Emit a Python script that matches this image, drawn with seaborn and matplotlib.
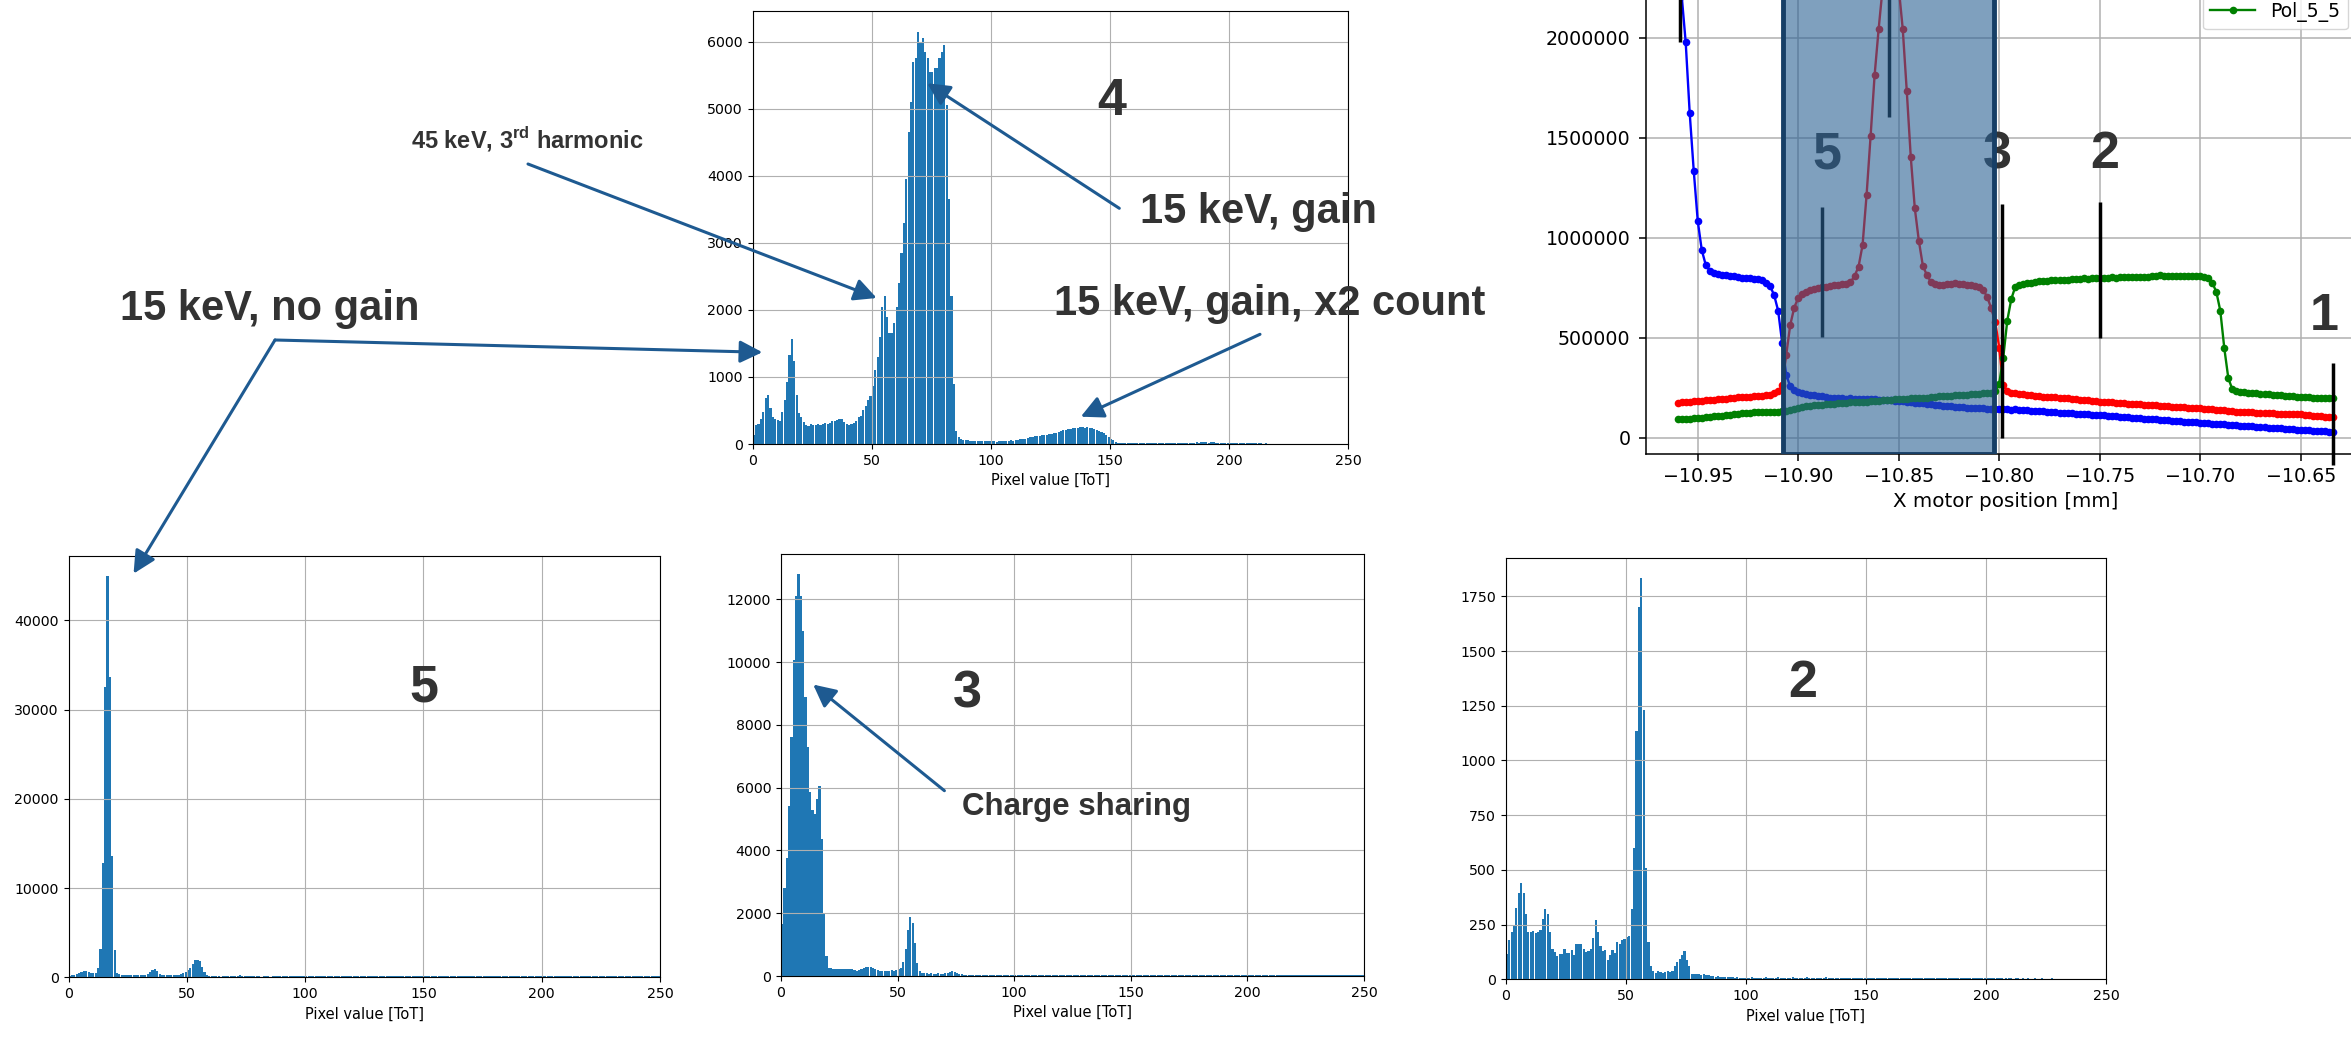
import matplotlib
matplotlib.use("Agg")
import matplotlib.pyplot as plt
import seaborn as sns
import numpy as np
import pandas as pd

W, H = 2351, 1037

# ---- ToT histograms, counts per 1-ToT bin starting at 0 ----
tot_counts_4 = [
    140, 280, 300, 380, 480, 690, 726, 530, 400, 380,
    360, 340, 480, 650, 930, 1330, 1570, 1240, 730, 460,
    400, 330, 290, 270, 300, 280, 290, 300, 280, 300,
    310, 300, 320, 340, 350, 360, 380, 370, 330, 300,
    290, 300, 320, 350, 400, 420, 500, 560, 650, 720,
    860, 1100, 1300, 1600, 2050, 2200, 1900, 1650, 1650, 1800,
    2050, 2400, 2850, 3300, 3950, 4650, 5100, 5700, 5750, 6150,
    6000, 6050, 5850, 5750, 5550, 5550, 5600, 5600, 5750, 5850,
    5950, 5050, 3650, 2200, 900, 200, 100, 70, 60, 55,
    55, 50, 45, 50, 45, 50, 40, 45, 50, 40,
    40, 45, 35, 40, 45, 40, 50, 45, 55, 50,
    55, 60, 70, 75, 80, 90, 100, 110, 115, 120,
    125, 130, 135, 140, 145, 150, 160, 170, 180, 195,
    205, 215, 220, 225, 235, 240, 245, 250, 255, 245,
    250, 245, 240, 230, 215, 200, 180, 160, 130, 100,
    80, 55, 35, 22, 16, 13, 12, 11, 12, 10,
    12, 10, 11, 9, 12, 10, 11, 13, 10, 12,
    11, 13, 12, 14, 12, 13, 15, 14, 16, 15,
    17, 18, 20, 19, 22, 21, 24, 22, 23, 25,
    24, 22, 25, 23, 21, 22, 20, 19, 18, 17,
    16, 15, 14, 13, 12, 12, 11, 10, 10, 9,
    9, 8, 9, 8, 7, 8, 7, 6, 7, 6,
    6, 5, 6, 5, 5, 6, 5, 4, 5, 4,
    4, 5, 4, 4, 3, 4, 3, 4, 3, 3,
    3, 3, 2, 3, 2, 3, 2, 2, 3, 2,
]

tot_counts_5 = [
    150, 250, 300, 350, 450, 650, 750, 700, 600, 500,
    480, 450, 1000, 3200, 12800, 32500, 45000, 33700, 13600, 3100,
    500, 350, 300, 280, 270, 260, 250, 250, 240, 240,
    250, 260, 300, 400, 600, 800, 900, 700, 400, 300,
    250, 230, 220, 230, 250, 270, 300, 350, 450, 600,
    800, 1000, 1500, 1900, 1900, 1850, 1200, 600, 250, 120,
    100, 90, 95, 90, 85, 90, 95, 100, 110, 130,
    160, 200, 220, 200, 160, 120, 100, 95, 90, 90,
    90, 88, 92, 95, 90, 88, 94, 96, 92, 90,
    95, 98, 92, 96, 100, 97, 94, 99, 102, 98,
    100, 97, 103, 99, 101, 104, 98, 100, 103, 99,
    102, 105, 100, 98, 103, 101, 99, 104, 100, 102,
    98, 101, 103, 100, 97, 102, 99, 101, 98, 100,
    103, 99, 100, 102, 98, 101, 104, 100, 97, 99,
    101, 98, 102, 100, 99, 103, 100, 98, 101, 99,
    100, 102, 97, 99, 101, 98, 100, 103, 99, 101,
    98, 100, 102, 99, 97, 101, 100, 98, 102, 99,
    100, 97, 99, 101, 98, 100, 102, 99, 97, 100,
    99, 101, 98, 100, 97, 99, 102, 100, 98, 101,
    100, 98, 99, 101, 97, 100, 99, 98, 101, 100,
    98, 100, 97, 99, 101, 98, 100, 99, 97, 98,
    100, 99, 97, 98, 100, 99, 96, 98, 99, 97,
    98, 96, 99, 97, 98, 96, 97, 99, 96, 98,
    97, 95, 98, 96, 97, 95, 96, 98, 95, 97,
    96, 94, 97, 95, 96, 94, 95, 96, 94, 95,
]

tot_counts_3 = [
    1650, 2800, 3750, 5400, 7600, 10050, 12100, 12800, 12100, 11000,
    8900, 7300, 5850, 5300, 5150, 5650, 6050, 4350, 2000, 650,
    250, 240, 230, 220, 230, 220, 210, 220, 230, 220,
    210, 180, 170, 190, 220, 250, 280, 300, 290, 260,
    220, 180, 170, 160, 170, 160, 170, 180, 170, 200,
    220, 260, 450, 850, 1450, 1880, 1700, 1050, 400, 150,
    90, 80, 85, 75, 80, 70, 75, 80, 70, 75,
    80, 110, 140, 160, 130, 80, 60, 50, 45, 45,
    42, 40, 44, 41, 39, 43, 40, 42, 38, 41,
    40, 43, 39, 41, 42, 38, 40, 41, 39, 42,
    40, 38, 41, 39, 42, 40, 37, 41, 39, 40,
    38, 41, 40, 39, 37, 40, 42, 39, 38, 40,
    39, 37, 40, 38, 41, 39, 38, 40, 37, 39,
    38, 40, 37, 39, 38, 36, 39, 38, 40, 37,
    38, 36, 39, 37, 38, 40, 36, 38, 37, 39,
    36, 38, 37, 35, 38, 36, 37, 39, 36, 37,
    35, 37, 36, 38, 35, 37, 36, 34, 37, 35,
    36, 34, 37, 35, 36, 34, 35, 37, 34, 36,
    35, 33, 36, 34, 35, 33, 36, 34, 35, 33,
    34, 36, 33, 35, 34, 32, 35, 33, 34, 32,
    33, 35, 32, 34, 33, 31, 34, 32, 33, 31,
    32, 34, 31, 33, 32, 30, 33, 31, 32, 30,
    31, 33, 30, 32, 31, 29, 32, 30, 31, 29,
    30, 32, 29, 31, 30, 28, 31, 29, 30, 28,
    29, 31, 28, 30, 29, 27, 30, 28, 29, 27,
]

tot_counts_2 = [
    115, 180, 215, 250, 325, 395, 440, 395, 300, 215,
    215, 220, 210, 215, 225, 275, 320, 300, 215, 140,
    125, 105, 115, 115, 140, 120, 120, 135, 110, 160,
    160, 160, 140, 125, 130, 140, 190, 270, 215, 150,
    130, 135, 90, 110, 135, 120, 170, 160, 180, 185,
    195, 200, 320, 600, 1135, 1700, 1835, 1230, 510, 170,
    60, 40, 30, 40, 35, 30, 35, 40, 35, 40,
    60, 80, 95, 110, 130, 90, 60, 25, 25, 22,
    25, 20, 22, 18, 20, 15, 15, 12, 14, 10,
    12, 10, 11, 9, 10, 8, 9, 8, 7, 8,
    8, 7, 9, 6, 8, 7, 6, 8, 9, 7,
    6, 8, 7, 9, 6, 7, 8, 6, 7, 9,
    7, 6, 8, 7, 6, 9, 7, 8, 6, 7,
    8, 6, 7, 9, 7, 6, 8, 7, 6, 8,
    7, 6, 8, 6, 7, 8, 6, 7, 6, 8,
    6, 7, 6, 8, 6, 7, 5, 7, 6, 6,
    7, 5, 6, 7, 5, 6, 6, 5, 7, 5,
    6, 5, 6, 5, 7, 5, 6, 5, 5, 6,
    5, 6, 5, 5, 6, 5, 4, 6, 5, 5,
    4, 5, 5, 4, 6, 4, 5, 4, 5, 4,
    5, 4, 4, 5, 4, 4, 5, 3, 4, 4,
    4, 3, 4, 4, 3, 4, 3, 4, 3, 3,
    4, 3, 3, 4, 3, 3, 3, 4, 3, 3,
    3, 3, 2, 3, 3, 2, 3, 3, 2, 3,
    2, 3, 2, 2,
]

# ---- X scan (counts in thousands), one point every 2 um from -10.960 mm ----
scan_start, scan_step = -10.960, 0.002
pol_blue_k = [
    2600, 2210, 1977, 1622, 1335, 1083, 938, 863, 835, 822,
    818, 815, 812, 811, 808, 805, 801, 799, 797, 792,
    794, 788, 776, 758, 713, 635, 472, 313, 258, 240,
    231, 226, 221, 216, 213, 209, 207, 204, 201, 199,
    198, 199, 196, 197, 196, 195, 196, 194, 195, 192,
    191, 190, 189, 187, 186, 185, 182, 180, 178, 176,
    175, 173, 171, 168, 166, 163, 161, 159, 157, 155,
    154, 152, 151, 150, 149, 148, 147, 146, 145, 144,
    143, 142, 143, 141, 142, 139, 138, 139, 136, 135,
    134, 132, 130, 129, 127, 126, 125, 123, 122, 121,
    120, 119, 118, 116, 115, 113, 112, 111, 109, 107,
    106, 104, 102, 101, 99, 98, 96, 95, 93, 92,
    90, 89, 87, 86, 84, 83, 81, 80, 78, 77,
    75, 74, 72, 71, 70, 68, 67, 65, 64, 62,
    61, 60, 58, 57, 56, 54, 53, 51, 50, 48,
    47, 45, 44, 42, 41, 39, 38, 37, 36, 35,
    34, 32, 31, 30,
]
pol_red_k = [
    175, 177, 178, 180, 182, 184, 186, 188, 189, 191,
    193, 194, 196, 197, 199, 202, 203, 205, 206, 208,
    210, 211, 213, 216, 222, 232, 262, 413, 563, 650,
    700, 718, 730, 740, 744, 748, 752, 755, 760, 762,
    765, 768, 770, 778, 808, 855, 963, 1213, 1508, 1813,
    2043, 2250, 2380, 2420, 2380, 2250, 2043, 1733, 1402, 1147,
    985, 860, 813, 780, 770, 763, 765, 768, 770, 772,
    770, 768, 766, 763, 760, 752, 738, 705, 647, 580,
    450, 262, 235, 225, 222, 220, 218, 215, 212, 210,
    208, 206, 205, 204, 202, 200, 198, 197, 195, 193,
    191, 189, 187, 185, 183, 181, 180, 178, 177, 175,
    174, 172, 171, 170, 168, 167, 166, 164, 163, 162,
    160, 159, 157, 156, 155, 154, 152, 151, 150, 148,
    147, 145, 143, 142, 140, 138, 137, 135, 133, 131,
    130, 129, 128, 127, 126, 125, 124, 123, 122, 121,
    120, 119, 118, 118, 117, 117, 115, 113, 111, 109,
    107, 105, 103, 102,
]
pol_green_k = [
    92, 93, 94, 96, 97, 99, 101, 104, 106, 108,
    110, 111, 113, 116, 119, 121, 123, 125, 126, 127,
    128, 129, 130, 130, 131, 131, 132, 134, 137, 142,
    148, 153, 157, 160, 162, 164, 166, 168, 170, 171,
    172, 174, 175, 177, 178, 179, 180, 181, 183, 184,
    186, 187, 189, 190, 192, 193, 194, 195, 197, 198,
    199, 200, 201, 203, 205, 207, 208, 209, 210, 212,
    213, 214, 215, 217, 218, 220, 222, 224, 226, 232,
    270, 400, 585, 693, 755, 765, 768, 772, 776, 780,
    783, 785, 786, 788, 788, 790, 791, 791, 792, 795,
    796, 797, 796, 798, 800, 800, 799, 801, 802, 800,
    803, 804, 802, 803, 805, 802, 804, 806, 808, 810,
    813, 810, 808, 807, 809, 808, 810, 809, 808, 809,
    808, 805, 797, 775, 730, 635, 447, 297, 242, 235,
    230, 228, 226, 224, 222, 220, 219, 217, 215, 214,
    212, 210, 208, 207, 205, 204, 203, 202, 201, 200,
    199, 198, 197, 197,
]
scan_series = [pol_blue_k, pol_red_k, pol_green_k]
scan_labels = ["Pol_5_3", "Pol_5_4", "Pol_5_5"]
scan_colors = ["blue", "red", "green"]
scan_ticks = [-10.95, -10.90, -10.85, -10.80, -10.75, -10.70, -10.65]

# measurement positions marked on the scan
mark_x = [-10.959, -10.888, -10.855, -10.7985, -10.75, -10.634]
mark_lo = [1980000, 503000, 1603000, 0, 497000, -137000]
mark_hi = [2700000, 1155000, 2700000, 1168000, 1180000, 375000]
roi_x = (-10.9074, -10.8026)

TXT = "#333333"
ARROW = "#1e5a91"
BOLD = ["Liberation Sans", "DejaVu Sans"]

plt.rcParams["mathtext.fontset"] = "custom"
plt.rcParams["mathtext.bf"] = "Liberation Sans:bold"
plt.rcParams["mathtext.rm"] = "Liberation Sans"

fig = plt.figure(figsize=(W / 100, H / 100), dpi=100)


def rect(l, t, r, b):
    return [l / W, 1 - b / H, (r - l) / W, (b - t) / H]


def P(x, y):
    return (x / W, 1 - y / H)


def tot_hist(ax, counts):
    df = pd.DataFrame({"tot": np.arange(len(counts)), "count": counts})
    sns.histplot(data=df, x="tot", weights="count", binwidth=1, binrange=(0, len(counts)),
                 color="#1f77b4", alpha=1, linewidth=0, shrink=0.9, ax=ax)
    ax.set_xlim(0, 250)
    ax.set_ylabel("")
    ax.set_xlabel("Pixel value [ToT]", fontsize=10.5)
    ax.grid(True, color="#b0b0b0", linewidth=0.8)
    ax.tick_params(labelsize=10.2)


ax4 = fig.add_axes(rect(752.6, 11, 1348, 444))
ax5 = fig.add_axes(rect(68.5, 555.7, 660, 977.3))
ax3 = fig.add_axes(rect(781, 554, 1364, 976))
ax2 = fig.add_axes(rect(1505.6, 557.7, 2106, 979.3))
for ax, c in [(ax4, tot_counts_4), (ax5, tot_counts_5), (ax3, tot_counts_3), (ax2, tot_counts_2)]:
    tot_hist(ax, c)

# ---- scan plot (cropped at top and right like the slide) ----
axs = fig.add_axes(rect(1645.5, -82.3, 2365, 454))
for yk, lab, col in zip(scan_series, scan_labels, scan_colors):
    xs = np.round(scan_start + scan_step * np.arange(len(yk)), 4)
    sns.lineplot(x=xs, y=np.array(yk) * 1000, color=col, marker="o", markersize=5.5,
                 markeredgewidth=0, linewidth=1.7, label=lab, ax=axs)
axs.set_xlim(-10.976, -10.618)
axs.set_ylim(-81500, 2600000)
axs.set_xticks(scan_ticks)
axs.ticklabel_format(axis="y", style="plain")
axs.tick_params(labelsize=13.7, length=4.7, width=1.1)
axs.tick_params(axis="y", pad=6)
axs.tick_params(axis="x", pad=5)
for sp in axs.spines.values():
    sp.set_linewidth(1.1)
axs.grid(True, color="#b0b0b0", linewidth=1.1)
axs.set_xlabel("X motor position [mm]", fontsize=14.3)
axs.set_ylabel("")
axs.vlines(mark_x, mark_lo, mark_hi, colors="black", linewidth=2.5, zorder=2.5, clip_on=False)
axs.axvspan(roi_x[0], roi_x[1], facecolor=(42 / 255, 97 / 255, 148 / 255, 0.6),
            edgecolor="#173f66", linewidth=3.5, zorder=3)
axs.legend(loc="lower right", bbox_to_anchor=(2348 / W, 1 - 29.3 / H),
           bbox_transform=fig.transFigure, borderaxespad=0, fontsize=13.5,
           handlelength=2.4, framealpha=0.8)

for s, x, y in [("5", 1827, 168.3), ("3", 1997, 168.3), ("2", 2105, 168.3), ("1", 2324, 330)]:
    axs.text(*P(x, y), s, transform=fig.transFigure, ha="center", va="baseline",
             fontsize=37.5, fontweight="bold", family=BOLD, color=TXT, zorder=2.8)

# ---- slide annotations ----
for s, x, y in [("4", 1112, 115), ("5", 424, 701.7), ("3", 967, 707.3), ("2", 1802.5, 697.3)]:
    fig.text(*P(x, y), s, ha="center", va="baseline", fontsize=37.5,
             fontweight="bold", family=BOLD, color=TXT)

notes = [
    ("15 keV, no gain", 120, 320, 30),
    ("15 keV, gain", 1140, 223.3, 30),
    ("15 keV, gain, x2 count", 1053.5, 315, 30),
    ("Charge sharing", 961.6, 815, 22.5),
    ("45 keV, 3$^{\\mathbf{rd}}$ harmonic", 411, 148.3, 17),
]
for s, x, y, fs in notes:
    fig.text(*P(x, y), s, ha="left", va="baseline", fontsize=fs,
             fontweight="bold", family=BOLD, color=TXT)

arrows = [
    (ax4, (52.1, 2177), (528, 164)),
    (ax4, (4.1, 1368), (275, 340)),
    (ax5, (27.5, 45240), (275, 340)),
    (ax4, (73.3, 5380), (1119.3, 208.3)),
    (ax4, (137.8, 407), (1260, 334.3)),
    (ax3, (13.8, 9282), (944.4, 790.7)),
]
for ax, tip, start in arrows:
    ax.annotate("", xy=tip, xycoords="data", xytext=P(*start), textcoords="figure fraction",
                arrowprops=dict(arrowstyle="-|>", color=ARROW, lw=2.2, mutation_scale=34,
                                shrinkA=0, shrinkB=0),
                annotation_clip=False)

fig.savefig("out.png", dpi=100)
